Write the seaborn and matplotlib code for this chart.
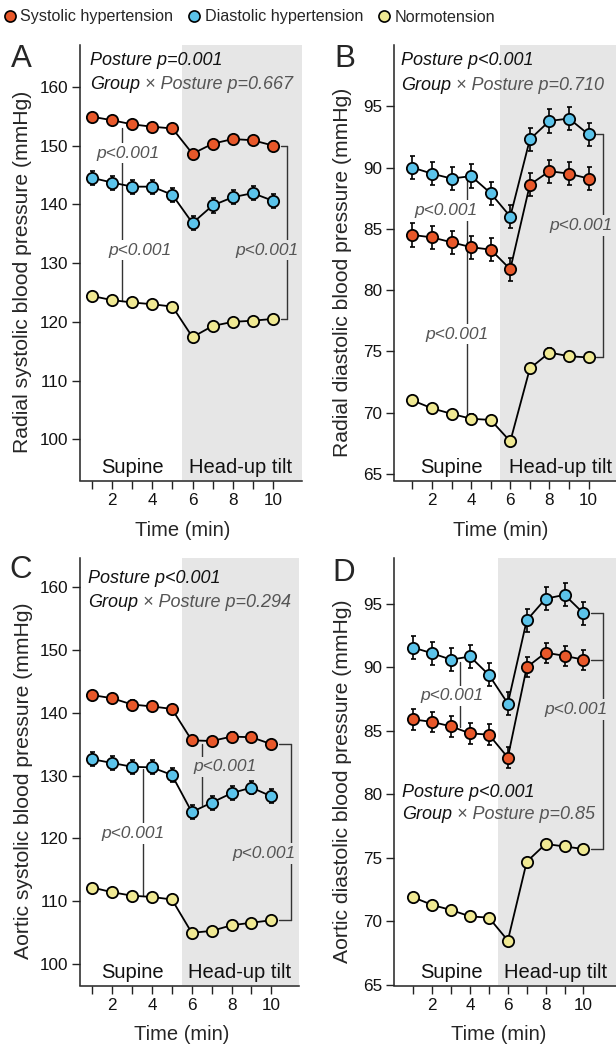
import numpy as np
import pandas as pd
import seaborn as sns
import matplotlib.pyplot as plt
from matplotlib.lines import Line2D

sns.set_style("ticks")
plt.rcParams['font.family'] = ['Liberation Sans', 'DejaVu Sans']

# data
time_min = [1, 2, 3, 4, 5, 6, 7, 8, 9, 10]
groups = ["Systolic hypertension", "Diastolic hypertension", "Normotension"]
colors = ["#E8582A", "#5BC3EA", "#F0E993"]
GRAY = "#E6E6E6"

# A - radial systolic
rad_sbp_sh = [154.9, 154.3, 153.6, 153.2, 152.9, 148.6, 150.3, 151.1, 150.9, 150.0]
rad_sbp_dh = [144.5, 143.7, 143.0, 143.0, 141.6, 136.8, 139.8, 141.2, 141.9, 140.6]
rad_sbp_nt = [124.4, 123.7, 123.3, 123.0, 122.6, 117.4, 119.3, 120.0, 120.2, 120.5]
rad_sbp_se = [0.7, 1.2, 0.6]

# B - radial diastolic
rad_dbp_sh = [84.5, 84.3, 83.9, 83.5, 83.3, 81.7, 88.6, 89.7, 89.5, 89.1]
rad_dbp_dh = [90.0, 89.5, 89.1, 89.3, 87.9, 86.0, 92.3, 93.8, 94.0, 92.7]
rad_dbp_nt = [71.0, 70.35, 69.9, 69.5, 69.4, 67.65, 73.6, 74.9, 74.6, 74.5]
rad_dbp_se = [0.95, 0.95, 0.35]

# C - aortic systolic
ao_sbp_sh = [142.8, 142.3, 141.3, 141.0, 140.6, 135.6, 135.5, 136.2, 136.1, 135.0]
ao_sbp_dh = [132.6, 132.0, 131.4, 131.3, 130.1, 124.2, 125.7, 127.2, 128.1, 126.7]
ao_sbp_nt = [112.2, 111.45, 110.9, 110.7, 110.3, 105.0, 105.3, 106.2, 106.6, 107.0]
ao_sbp_se = [0.7, 1.1, 0.6]

# D - aortic diastolic
ao_dbp_sh = [85.9, 85.7, 85.35, 84.8, 84.7, 82.9, 90.0, 91.15, 90.9, 90.6]
ao_dbp_dh = [91.55, 91.1, 90.6, 90.85, 89.4, 87.15, 93.7, 95.4, 95.7, 94.25]
ao_dbp_nt = [71.9, 71.3, 70.9, 70.4, 70.3, 68.5, 74.7, 76.1, 75.9, 75.7]
ao_dbp_se = [0.8, 0.9, 0.3]

W, H = 616, 1049
panels = [
    dict(letter="A", series=[rad_sbp_sh, rad_sbp_dh, rad_sbp_nt], se=rad_sbp_se,
         rect=(80, 45, 302, 480), xlim=(0.4, 11.45), ylim=(93.1, 167.1),
         yticks=[100, 110, 120, 130, 140, 150, 160],
         ylabel="Radial systolic blood pressure (mmHg)", letter_xy=(21, 59),
         stats=("Posture p=0.001", " × Posture p=0.667", 0.89, 164.4, 160.3),
         conn=[(2.5, 153.0, 123.6, [(2.77, 148.7), (3.4, 132.2)])],
         brk=(10.7, [0, 2], (9.7, 132.2)), phase_x=(3.0, 8.4)),
    dict(letter="B", series=[rad_dbp_sh, rad_dbp_dh, rad_dbp_nt], se=rad_dbp_se,
         rect=(394, 45, 616, 480), xlim=(0.06, 11.4), ylim=(64.5, 100),
         yticks=[65, 70, 75, 80, 85, 90, 95],
         ylabel="Radial diastolic blood pressure (mmHg)", letter_xy=(345, 59),
         stats=("Posture p<0.001", " × Posture p=0.710", 0.44, 98.7, 96.7),
         conn=[(3.77, 88.9, 69.8, [(2.74, 86.5), (3.3, 76.4)])],
         brk=(10.74, [1, 2], (9.63, 85.25)), phase_x=(3.0, 8.55)),
    dict(letter="C", series=[ao_sbp_sh, ao_sbp_dh, ao_sbp_nt], se=ao_sbp_se,
         rect=(80, 558, 299, 985), xlim=(0.38, 11.39), ylim=(96.7, 164.6),
         yticks=[100, 110, 120, 130, 140, 150, 160],
         ylabel="Aortic systolic blood pressure (mmHg)", letter_xy=(21, 570),
         stats=("Posture p<0.001", " × Posture p=0.294", 0.78, 161.4, 157.6),
         conn=[(3.57, 131.0, 110.9, [(3.05, 120.8)]),
               (6.5, 135.1, 125.3, [(7.67, 131.4)])],
         brk=(11.0, [0, 2], (9.63, 117.6)), phase_x=(3.03, 8.42)),
    dict(letter="D", series=[ao_dbp_sh, ao_dbp_dh, ao_dbp_nt], se=ao_dbp_se,
         rect=(394, 558, 616, 985), xlim=(-0.02, 11.72), ylim=(65, 98.6),
         yticks=[65, 70, 75, 80, 85, 90, 95],
         ylabel="Aortic diastolic blood pressure (mmHg)", letter_xy=(344, 573),
         stats=("Posture p<0.001", " × Posture p=0.85", 0.39, 80.16, 78.4),
         conn=[(3.47, 90.4, 85.3, [(3.03, 87.75)])],
         brk=(11.04, [1, 0, 2], (9.6, 86.7)), phase_x=(3.03, 8.55)),
]

fig = plt.figure(figsize=(W / 100, H / 100), dpi=100)
LINE_C = "#333333"
PTXT = "#555555"

for p in panels:
    x0, y0, x1, y1 = p["rect"]
    ax = fig.add_axes([x0 / W, 1 - y1 / H, (x1 - x0) / W, (y1 - y0) / H])
    ax.set_facecolor("none")
    ax.axvspan(5.5, p["xlim"][1], color=GRAY, lw=0, zorder=0)

    for vals, err, c in zip(p["series"], p["se"], colors):
        df = pd.DataFrame({"time": time_min, "bp": vals})
        sns.lineplot(data=df, x="time", y="bp", color="black", lw=1.3, ax=ax, zorder=2)
        ax.errorbar(time_min, vals, yerr=err, fmt="none", ecolor="black",
                    elinewidth=1.2, capsize=1.8, capthick=1.2, zorder=2)
        sns.scatterplot(data=df, x="time", y="bp", color=c, edgecolor="black",
                        linewidth=1.3, s=66, ax=ax, zorder=3)

    # between-group connectors
    for cx, ya, yb, labs in p["conn"]:
        ax.plot([cx, cx], [ya, yb], color=LINE_C, lw=1.0, zorder=1)
        for lx, ly in labs:
            ax.text(lx, ly, "p<0.001", style="italic", fontsize=12.5, color=PTXT,
                    ha="center", va="center", zorder=4,
                    bbox=dict(facecolor="white" if lx < 5.5 else GRAY,
                              edgecolor="none", pad=2))

    # right bracket
    bx, idx, (lx, ly) = p["brk"]
    ends = [p["series"][i][-1] for i in idx]
    ax.plot([bx, bx], [min(ends), max(ends)], color=LINE_C, lw=1.0, zorder=1)
    for yv in ends:
        ax.plot([10.38, bx], [yv, yv], color=LINE_C, lw=1.0, zorder=1)
    ax.text(lx, ly, "p<0.001", style="italic", fontsize=12.5, color=PTXT,
            ha="center", va="center", zorder=4,
            bbox=dict(facecolor=GRAY, edgecolor="none", pad=2))

    # stats text
    s1, s2, sx, sy1, sy2 = p["stats"]
    ax.text(sx, sy1, s1, style="italic", fontsize=13, color="#111111", va="center", zorder=5)
    tg = ax.text(sx, sy2, "Group", style="italic", fontsize=13, color="#111111",
                 va="center", zorder=5)
    ax.annotate(s2, xy=(1, 0), xycoords=tg, va="bottom", ha="left",
                style="italic", fontsize=13, color=PTXT, zorder=5)

    # phase labels
    for txt, xv in zip(["Supine", "Head-up tilt"], p["phase_x"]):
        ax.annotate(txt, xy=(xv, 0), xycoords=ax.get_xaxis_transform(),
                    xytext=(0, 2.5), textcoords="offset points",
                    ha="center", va="bottom", fontsize=14.5, color="#111111")

    ax.set_xlim(*p["xlim"])
    ax.set_ylim(*p["ylim"])
    ax.set_yticks(p["yticks"])
    ax.set_xticks(time_min)
    ax.set_xticklabels([str(t) if t % 2 == 0 else "" for t in time_min])
    ax.tick_params(axis="both", labelsize=12.3, width=1.0, length=5.8, pad=2.5,
                   color="#222222", labelcolor="#111111")
    for side in ["top", "right"]:
        ax.spines[side].set_visible(False)
    for side in ["left", "bottom"]:
        ax.spines[side].set_linewidth(1.1)
        ax.spines[side].set_color("#222222")
    ax.spines["bottom"].set_position(("outward", 1))
    ax.set_xlabel("Time (min)", fontsize=14.5, labelpad=1)
    xl0, xl1 = p["xlim"]
    ax.xaxis.set_label_coords((5.5 - xl0) / (xl1 - xl0),
                              -0.095 if p["letter"] in "AB" else -0.094)
    ax.set_ylabel(p["ylabel"], fontsize=15.2)
    ax.yaxis.set_label_coords(-0.215 if p["letter"] in "AC" else -0.19, 0.478)

    lx_, ly_ = p["letter_xy"]
    fig.text(lx_ / W, 1 - ly_ / H, p["letter"], fontsize=22.5, ha="center", va="center")

handles = [Line2D([], [], marker="o", ls="none", markerfacecolor=c,
                  markeredgecolor="black", markeredgewidth=1.2, markersize=8)
           for c in colors]
fig.legend(handles, groups, loc="center", bbox_to_anchor=(0.403, 1 - 17 / H), ncol=3,
           frameon=False, fontsize=11.6, handletextpad=0.15, columnspacing=0.8,
           handlelength=1.0, borderaxespad=0)

fig.savefig("out.png", dpi=100)
